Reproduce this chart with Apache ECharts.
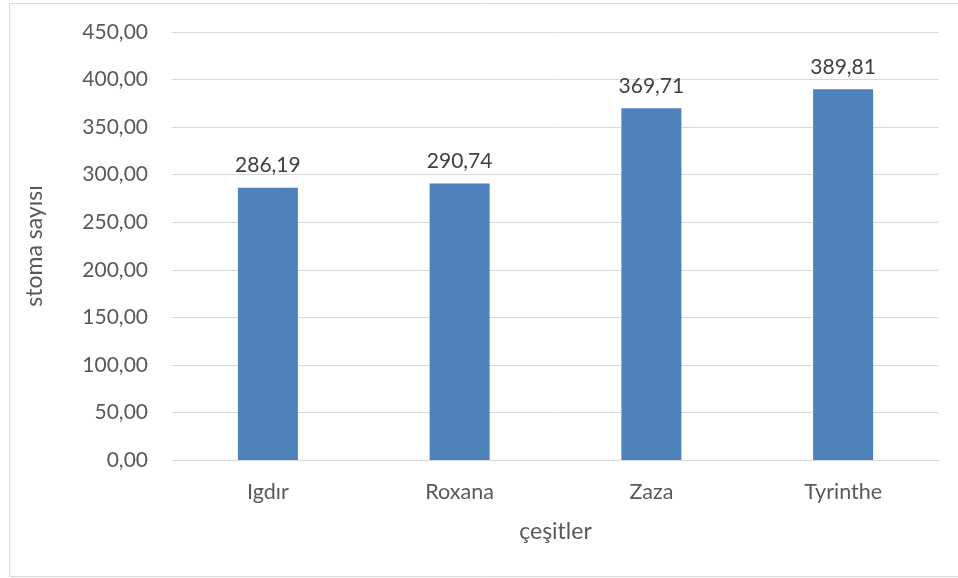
<!DOCTYPE html>
<html>
<head>
<meta charset="utf-8">
<script src="https://cdn.jsdelivr.net/npm/echarts@6/dist/echarts.min.js"></script>
<style>
  html, body { margin: 0; padding: 0; background: #fff; }
  #chart { width: 958px; height: 578px; }
</style>
</head>
<body>
<div id="chart"></div>
<script>
// Stomata count per cultivar
const categories = ['Igdır', 'Roxana', 'Zaza', 'Tyrinthe'];
const stomaValues = [286.19, 290.74, 369.71, 389.81];
const yTicks = { min: 0, max: 450, interval: 50 };

const fmt = v => v.toFixed(2).replace('.', ',');
const textColor = '#595959';
const fontFamily = 'Lato, "Open Sans", sans-serif';

const chart = echarts.init(document.getElementById('chart'), null, { renderer: 'canvas' });
chart.setOption({
  animation: false,
  backgroundColor: '#fff',
  textStyle: { fontFamily: fontFamily, color: textColor },
  graphic: [{
    type: 'rect',
    shape: { x: 9.5, y: 3.5, width: 960, height: 573 },
    style: { fill: 'none', stroke: '#d9d9d9', lineWidth: 1 },
    silent: true
  }],
  grid: { left: 172, right: 19, top: 32, bottom: 118, containLabel: false },
  xAxis: {
    type: 'category',
    data: categories,
    name: 'çeşitler',
    nameLocation: 'middle',
    nameGap: 60,
    nameTextStyle: { fontSize: 23, color: textColor, fontFamily: fontFamily },
    axisLine: { show: true, lineStyle: { color: '#d9d9d9', width: 1 } },
    axisTick: { show: false },
    axisLabel: { fontSize: 21.5, color: textColor, margin: 21, fontFamily: fontFamily }
  },
  yAxis: {
    type: 'value',
    min: yTicks.min,
    max: yTicks.max,
    interval: yTicks.interval,
    name: 'stoma sayısı',
    nameLocation: 'middle',
    nameGap: 126,
    nameRotate: 90,
    nameTextStyle: { fontSize: 23, color: textColor, fontFamily: fontFamily },
    axisLine: { show: false },
    axisTick: { show: false },
    axisLabel: { fontSize: 21, color: textColor, margin: 24, formatter: fmt, fontFamily: fontFamily },
    splitLine: { lineStyle: { color: '#d9d9d9', width: 1 } }
  },
  series: [{
    type: 'bar',
    data: stomaValues,
    barWidth: 60,
    itemStyle: { color: '#4f81bd' },
    label: {
      show: true,
      position: 'top',
      distance: 12,
      fontSize: 21,
      color: '#404040',
      fontFamily: fontFamily,
      formatter: p => fmt(p.value)
    }
  }]
});
</script>
</body>
</html>
